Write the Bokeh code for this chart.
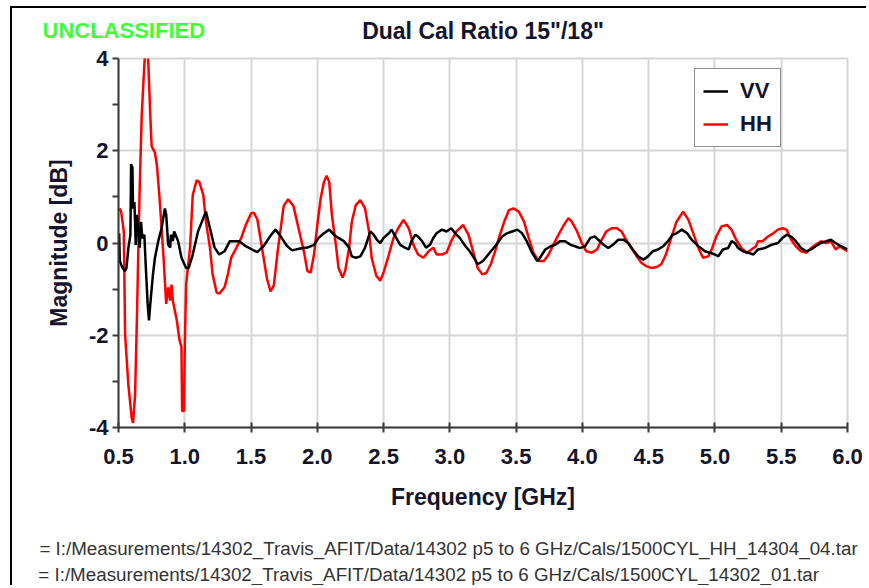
from bokeh.plotting import figure
from bokeh.models import (Range1d, Legend, LegendItem, FixedTicker, LinearAxis)
from bokeh.embed import file_html
from bokeh.resources import INLINE

# ---------------- data ----------------
hh_freq = [0.507, 0.52, 0.54, 0.55, 0.575, 0.60, 0.61, 0.625, 0.64, 0.65, 0.66, 0.675, 0.69, 0.70, 0.72,
           0.725, 0.74, 0.75, 0.775, 0.79, 0.81, 0.825, 0.84, 0.85, 0.86, 0.875, 0.89, 0.90, 0.91, 0.94,
           0.96, 0.975, 0.98, 0.995, 1.0, 1.01, 1.04, 1.06, 1.09, 1.11, 1.14, 1.16, 1.19, 1.21, 1.24,
           1.26, 1.30, 1.325, 1.35, 1.39, 1.425, 1.46, 1.50, 1.52, 1.547, 1.584, 1.62, 1.647, 1.672, 1.70,
           1.72, 1.746, 1.78, 1.82, 1.86, 1.90, 1.925, 1.95, 1.975, 2.0, 2.025, 2.05, 2.07, 2.09, 2.11,
           2.14, 2.16, 2.19, 2.21, 2.24, 2.26, 2.29, 2.325, 2.36, 2.39, 2.41, 2.445, 2.475, 2.50, 2.54,
           2.575, 2.61, 2.65, 2.69, 2.725, 2.76, 2.80, 2.84, 2.875, 2.90, 2.94, 2.975, 3.01, 3.05, 3.10,
           3.14, 3.175, 3.21, 3.245, 3.275, 3.31, 3.345, 3.37, 3.41, 3.445, 3.48, 3.52, 3.56, 3.595, 3.63,
           3.67, 3.71, 3.745, 3.78, 3.82, 3.86, 3.895, 3.92, 3.96, 3.995, 4.03, 4.07, 4.11, 4.145, 4.18,
           4.22, 4.26, 4.295, 4.33, 4.37, 4.41, 4.445, 4.48, 4.52, 4.56, 4.595, 4.63, 4.67, 4.71, 4.76,
           4.80, 4.84, 4.875, 4.91, 4.95, 4.975, 5.01, 5.05, 5.09, 5.125, 5.16, 5.2, 5.24, 5.275, 5.31,
           5.325, 5.36, 5.40, 5.44, 5.475, 5.51, 5.54, 5.575, 5.61, 5.65, 5.69, 5.725, 5.76, 5.8, 5.84,
           5.875, 5.91, 5.94, 5.96, 6.0]
hh_db = [0.75, 0.68, 0.25, -2.0, -3.1, -3.8, -3.9, -3.3, -1.5, -0.1, 1.2, 2.75, 3.6, 4.1, 4.1,
         3.9, 2.75, 2.1, 1.96, 1.68, 0.96, 0.32, -0.32, -0.82, -1.32, -0.96, -1.25, -0.9, -1.25, -1.68,
         -2.1, -2.25, -3.64, -3.64, -2.25, -0.9, -0.1, 1.04, 1.36, 1.32, 1.04, 0.46, -0.1, -0.68, -1.07,
         -1.1, -0.96, -0.68, -0.32, -0.1, 0.1, 0.39, 0.64, 0.66, 0.52, -0.13, -0.77, -1.05, -0.92, -0.2,
         0.23, 0.8, 0.95, 0.8, 0.3, -0.2, -0.61, -0.64, -0.25, 0.39, 0.96, 1.32, 1.46, 1.32, 0.61,
         -0.04, -0.54, -0.75, -0.61, -0.1, 0.46, 0.82, 0.93, 0.75, 0.25, -0.32, -0.71, -0.82, -0.64, -0.25,
         0.11, 0.32, 0.5, 0.32, -0.04, -0.25, -0.32, -0.18, -0.1, -0.25, -0.25, -0.21, 0.04, 0.25, 0.39,
         0.18, -0.18, -0.54, -0.68, -0.65, -0.45, -0.15, 0.11, 0.46, 0.71, 0.75, 0.68, 0.46, 0.11, -0.21,
         -0.39, -0.39, -0.25, -0.04, 0.18, 0.39, 0.54, 0.46, 0.25, 0.0, -0.18, -0.21, -0.14, 0.07, 0.25,
         0.32, 0.32, 0.25, 0.07, -0.11, -0.29, -0.43, -0.5, -0.54, -0.52, -0.46, -0.25, 0.11, 0.46, 0.68,
         0.5, 0.18, -0.11, -0.32, -0.29, -0.14, 0.14, 0.36, 0.39, 0.29, 0.07, -0.11, -0.21, -0.14, -0.07,
         0.04, 0.04, 0.14, 0.21, 0.29, 0.32, 0.29, 0.07, -0.07, -0.18, -0.21, -0.11, -0.04, 0.04, 0.0,
         0.04, -0.14, -0.07, -0.11, -0.18]

vv_freq = [0.505, 0.51, 0.53, 0.55, 0.56, 0.575, 0.59, 0.595, 0.605, 0.61, 0.62, 0.63, 0.64, 0.66, 0.67,
           0.68, 0.695, 0.705, 0.72, 0.73, 0.74, 0.76, 0.775, 0.80, 0.825, 0.85, 0.86, 0.875, 0.89, 0.895,
           0.91, 0.92, 0.93, 0.95, 0.975, 1.01, 1.03, 1.06, 1.10, 1.14, 1.16, 1.19, 1.225, 1.26, 1.30,
           1.34, 1.41, 1.46, 1.50, 1.547, 1.597, 1.647, 1.685, 1.72, 1.77, 1.81, 1.87, 1.925, 1.975, 2.01,
           2.05, 2.09, 2.125, 2.16, 2.20, 2.24, 2.26, 2.29, 2.325, 2.36, 2.40, 2.425, 2.45, 2.475, 2.50,
           2.54, 2.56, 2.59, 2.625, 2.66, 2.69, 2.71, 2.74, 2.76, 2.79, 2.82, 2.85, 2.875, 2.90, 2.94,
           2.975, 3.01, 3.04, 3.075, 3.11, 3.15, 3.19, 3.21, 3.25, 3.29, 3.31, 3.35, 3.395, 3.43, 3.47,
           3.51, 3.545, 3.58, 3.62, 3.66, 3.68, 3.72, 3.76, 3.795, 3.83, 3.87, 3.91, 3.945, 3.98, 4.02,
           4.06, 4.095, 4.12, 4.16, 4.195, 4.23, 4.27, 4.31, 4.345, 4.38, 4.42, 4.46, 4.495, 4.53, 4.57,
           4.61, 4.645, 4.68, 4.71, 4.75, 4.79, 4.825, 4.875, 4.925, 4.96, 5.0, 5.025, 5.06, 5.1, 5.125,
           5.15, 5.175, 5.21, 5.25, 5.29, 5.325, 5.375, 5.425, 5.475, 5.51, 5.54, 5.575, 5.61, 5.65, 5.69,
           5.725, 5.76, 5.8, 5.84, 5.875, 5.91, 5.95, 6.0]
vv_db = [0.21, -0.39, -0.54, -0.61, -0.54, -0.1, 0.18, 1.71, 1.64, 0.75, 0.89, -0.04, 0.61, -0.1, 0.46,
         0.1, 0.18, -0.46, -1.32, -1.68, -1.32, -0.68, -0.32, 0.04, 0.32, 0.75, 0.61, -0.04, -0.1, 0.18,
         0.04, 0.25, 0.18, 0.04, -0.32, -0.54, -0.54, -0.25, 0.25, 0.54, 0.68, 0.32, -0.1, -0.25, -0.18,
         0.04, 0.04, -0.07, -0.13, -0.2, -0.06, 0.16, 0.29, 0.16, -0.06, -0.16, -0.12, -0.1, -0.04, 0.11,
         0.21, 0.29, 0.18, 0.11, 0.04, -0.1, -0.29, -0.32, -0.29, -0.1, 0.25, 0.18, 0.07, 0.0, 0.11,
         0.21, 0.29, 0.14, -0.04, -0.1, -0.14, 0.04, 0.18, 0.14, 0.04, -0.1, -0.04, 0.11, 0.21, 0.29,
         0.25, 0.32, 0.21, 0.11, -0.04, -0.18, -0.36, -0.46, -0.39, -0.25, -0.18, -0.04, 0.14, 0.21, 0.25,
         0.29, 0.21, 0.04, -0.21, -0.39, -0.32, -0.14, -0.07, -0.04, 0.04, 0.04, -0.04, -0.07, -0.11, -0.07,
         0.11, 0.14, 0.07, -0.04, -0.11, -0.04, 0.07, 0.07, 0.0, -0.14, -0.29, -0.36, -0.29, -0.18, -0.14,
         -0.07, 0.04, 0.18, 0.21, 0.29, 0.21, 0.07, -0.07, -0.18, -0.21, -0.25, -0.29, -0.14, -0.11, 0.04,
         0.0, -0.11, -0.18, -0.21, -0.25, -0.14, -0.11, -0.04, 0.0, 0.11, 0.18, 0.14, 0.04, -0.11, -0.18,
         -0.14, -0.07, 0.0, 0.04, 0.07, 0.0, -0.07, -0.14]

x_ticks = [0.5, 1.0, 1.5, 2.0, 2.5, 3.0, 3.5, 4.0, 4.5, 5.0, 5.5, 6.0]
x_tick_labels = ["0.5", "1.0", "1.5", "2.0", "2.5", "3.0", "3.5", "4.0", "4.5", "5.0", "5.5", "6.0"]
y_ticks = [-4, -2, 0, 2, 4]
y_tick_labels = ["-4", "-2", "0", "2", "4"]
y_minor_ticks = [-3, -1, 1, 3]

title_text = "Dual Cal Ratio 15\"/18\""
class_text = "UNCLASSIFIED"
class_anchor = [0.54]          # x (GHz) under the centre of the classification banner
x_label = "Frequency [GHz]"
y_label = "Magnitude [dB]"
file_lines = [
    "= I:/Measurements/14302_Travis_AFIT/Data/14302 p5 to 6 GHz/Cals/1500CYL_HH_14304_04.tar",
    "= I:/Measurements/14302_Travis_AFIT/Data/14302 p5 to 6 GHz/Cals/1500CYL_14302_01.tar",
]
file_anchors = [2.99, 2.84]    # x (GHz) under the centre of each file-name line
file_standoffs = [25, 2]

# ---------------- figure ----------------
OX, OY = 12, 8                 # canvas origin on the page (margin + page-frame border)
W, H = 869 - OX - 1, 588 - OY - 1
FL, FR, FT, FB = 118 - OX, 847 - OX, 58 - OY, 430 - OY   # frame edges in canvas px
FONT = "Liberation Sans"
DARK = "#14142a"

p = figure(width=W, height=H, output_backend="svg", toolbar_location=None,
           x_range=Range1d(0.5, 6.0), y_range=Range1d(-4, 4),
           min_border_left=FL, min_border_right=W - FR, min_border_top=FT,
           min_border_bottom=H - FB)
p.styles = {"margin-left": "10px", "margin-top": "6px",
            "border-left": "2px solid black", "border-top": "2px solid black"}
p.background_fill_color = "white"
p.border_fill_color = "white"
p.outline_line_color = "#d6d6d6"
p.outline_line_width = 2

main_x = p.xaxis[0]
main_y = p.yaxis[0]
main_x.ticker = FixedTicker(ticks=x_ticks, minor_ticks=[])
main_x.major_label_overrides = {t: l for t, l in zip(x_ticks, x_tick_labels)}
main_y.ticker = FixedTicker(ticks=y_ticks, minor_ticks=y_minor_ticks)
main_y.major_label_overrides = {t: l for t, l in zip(y_ticks, y_tick_labels)}

for ax in (main_x, main_y):
    ax.axis_line_color = "#3a3a3a"
    ax.axis_line_width = 2
    ax.major_tick_line_color = "#3a3a3a"
    ax.major_tick_line_width = 2
    ax.minor_tick_line_color = "#3a3a3a"
    ax.minor_tick_line_width = 2
    ax.major_label_text_font = FONT
    ax.major_label_text_font_style = "bold"
    ax.major_label_text_font_size = "22px"
    ax.major_label_text_color = DARK
    ax.axis_label_text_font = FONT
    ax.axis_label_text_font_style = "bold"
    ax.axis_label_text_font_size = "23px"
    ax.axis_label_text_color = DARK

main_x.major_tick_in = 5
main_x.major_tick_out = 5
main_x.major_label_standoff = 16
main_x.axis_label = x_label
main_x.axis_label_standoff = 17

main_y.major_tick_in = 0
main_y.major_tick_out = 6
main_y.minor_tick_in = 0
main_y.minor_tick_out = 6
main_y.major_label_standoff = 4
main_y.axis_label = y_label
main_y.axis_label_standoff = 14

p.xgrid.grid_line_color = "#d6d6d6"
p.xgrid.grid_line_width = 2
p.ygrid.grid_line_color = "#d6d6d6"
p.ygrid.grid_line_width = 2

r_hh = p.line(hh_freq, hh_db, line_color="#ff0000", line_width=2.5)
r_vv = p.line(vv_freq, vv_db, line_color="#000000", line_width=2.5)

legend = Legend(items=[LegendItem(label="VV", renderers=[r_vv]),
                       LegendItem(label="HH", renderers=[r_hh])],
                location=(694 - 118, 430 - 150))
legend.label_text_font = FONT
legend.label_text_font_style = "bold"
legend.label_text_font_size = "22px"
legend.label_text_color = DARK
legend.glyph_width = 25
legend.glyph_height = 28
legend.label_height = 28
legend.label_standoff = 12
legend.spacing = 5
legend.padding = 8
legend.margin = 0
legend.border_line_color = "#222222"
legend.border_line_width = 1.5
legend.background_fill_alpha = 1
p.add_layout(legend)


def text_axis(anchor, text, size, style, color, standoff):
    """An axis that only carries one text label (no line, no tick)."""
    ax = LinearAxis(ticker=FixedTicker(ticks=[anchor], minor_ticks=[]),
                    major_label_overrides={anchor: text})
    ax.axis_line_color = None
    ax.major_tick_line_color = None
    ax.minor_tick_line_color = None
    ax.major_tick_in = 0
    ax.major_tick_out = 0
    ax.major_label_standoff = standoff
    ax.major_label_text_font = FONT
    ax.major_label_text_font_style = style
    ax.major_label_text_font_size = size
    ax.major_label_text_color = color
    return ax


# ---------------- header row: classification banner + chart title ----------------
top = text_axis(class_anchor[0], class_text, "22px", "bold", "#3cff3c", 16)
top.axis_label = title_text
top.axis_label_text_font = FONT
top.axis_label_text_font_style = "bold"
top.axis_label_text_font_size = "23px"
top.axis_label_text_color = DARK
top.axis_label_standoff = -29
p.add_layout(top, "above")

# ---------------- file names below the chart ----------------
for anchor, line, so in zip(file_anchors, file_lines, file_standoffs):
    p.add_layout(text_axis(anchor, line, "18.8px", "normal", "#333333", so), "below")

open("out.html", "w").write(file_html(p, INLINE))
